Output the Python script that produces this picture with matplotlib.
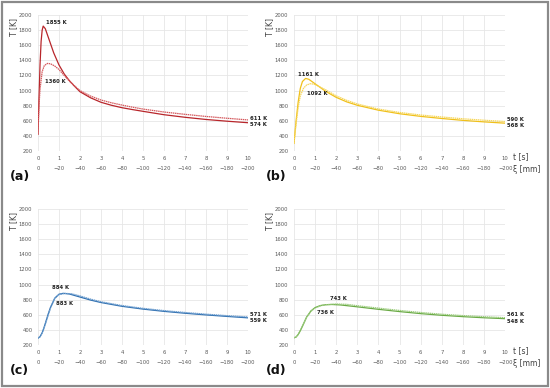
import matplotlib
matplotlib.use("Agg")
import matplotlib.pyplot as plt
import matplotlib.patches as pat

# time [s] and temperatures [K]
t_a = [0, 0.05, 0.1, 0.15, 0.2, 0.25, 0.35, 0.5, 0.75, 1, 1.25, 1.5, 1.75, 2, 2.5, 3, 3.5, 4, 4.5, 5, 6, 7, 8, 9, 10]
a_solid = [420, 900, 1350, 1650, 1800, 1855, 1820, 1700, 1500, 1340, 1220, 1130, 1055, 985, 905, 845, 805, 773, 748, 725, 680, 646, 617, 594, 574]
t_a2 = [0, 0.05, 0.1, 0.2, 0.3, 0.45, 0.6, 0.8, 1, 1.25, 1.5, 1.75, 2, 2.5, 3, 3.5, 4, 4.5, 5, 6, 7, 8, 9, 10]
a_dot = [420, 800, 1020, 1250, 1330, 1360, 1355, 1325, 1280, 1200, 1125, 1060, 1000, 928, 875, 838, 808, 780, 755, 716, 685, 657, 633, 611]

t_b = [0, 0.1, 0.2, 0.3, 0.4, 0.55, 0.7, 1, 1.5, 2, 2.5, 3, 4, 5, 6, 7, 8, 9, 10]
b_solid = [300, 600, 850, 1030, 1120, 1161, 1150, 1090, 990, 910, 850, 805, 740, 693, 658, 630, 605, 585, 568]
t_b2 = [0, 0.1, 0.2, 0.3, 0.45, 0.6, 0.8, 1, 1.5, 2, 2.5, 3, 4, 5, 6, 7, 8, 9, 10]
b_dot = [300, 560, 780, 930, 1030, 1075, 1092, 1080, 1010, 930, 870, 822, 755, 710, 676, 650, 626, 607, 590]

t_c = [0, 0.1, 0.2, 0.3, 0.4, 0.5, 0.6, 0.8, 1, 1.2, 1.5, 2, 2.5, 3, 4, 5, 6, 7, 8, 9, 10]
c_solid = [290, 310, 360, 440, 530, 620, 700, 820, 872, 884, 875, 835, 795, 762, 712, 675, 645, 620, 598, 578, 559]
t_c2 = [0, 0.1, 0.2, 0.3, 0.4, 0.5, 0.6, 0.8, 1, 1.3, 1.6, 2, 2.5, 3, 4, 5, 6, 7, 8, 9, 10]
c_dot = [290, 308, 355, 430, 515, 605, 690, 815, 868, 883, 878, 850, 808, 772, 722, 685, 655, 630, 608, 588, 571]

t_d = [0, 0.1, 0.2, 0.3, 0.4, 0.5, 0.6, 0.8, 1, 1.25, 1.5, 1.8, 2.2, 3, 4, 5, 6, 7, 8, 9, 10]
d_solid = [295, 305, 340, 390, 450, 510, 570, 650, 695, 722, 733, 736, 730, 705, 672, 642, 615, 593, 575, 560, 548]
t_d2 = [0, 0.1, 0.2, 0.3, 0.4, 0.5, 0.6, 0.8, 1, 1.25, 1.5, 2, 2.5, 3, 4, 5, 6, 7, 8, 9, 10]
d_dot = [295, 304, 338, 385, 445, 505, 565, 645, 690, 718, 733, 743, 738, 720, 688, 657, 630, 607, 589, 574, 561]

t_ticks = list(range(0, 11))
xi_ticks = [0, -20, -40, -60, -80, -100, -120, -140, -160, -180, -200]
y_ticks = list(range(200, 2001, 200))

panels = [
    # letter, rect, data, colours, peak labels, end labels, show units
    ("(a)", [0.069, 0.611, 0.382, 0.350], (t_a, a_solid, t_a2, a_dot), ("#b8262b", "#d4585c"),
     [("1855 K", 0.4, 1900), ("1360 K", 0.35, 1125)], ("611 K", "574 K"), False),
    ("(b)", [0.5345, 0.611, 0.384, 0.350], (t_b, b_solid, t_b2, b_dot), ("#f0c01a", "#f6d65a"),
     [("1161 K", 0.2, 1210), ("1092 K", 0.6, 965)], ("590 K", "568 K"), True),
    ("(c)", [0.069, 0.111, 0.382, 0.350], (t_c, c_solid, t_c2, c_dot), ("#2e6fb0", "#6f9fd0"),
     [("884 K", 0.65, 960), ("883 K", 0.85, 745)], ("571 K", "559 K"), False),
    ("(d)", [0.5345, 0.111, 0.384, 0.350], (t_d, d_solid, t_d2, d_dot), ("#6aaa45", "#9ccc7e"),
     [("743 K", 1.7, 815), ("736 K", 1.1, 625)], ("561 K", "548 K"), True),
]

fig = plt.figure(figsize=(5.5, 3.88), dpi=100)
fig.patches.append(pat.Rectangle((0.004, 0.005), 0.992, 0.99, transform=fig.transFigure,
                                 fill=False, ec="#8a8a8a", lw=1.6))

for letter, rect, (ts, ys, td, yd), (c1, c2), peaks, ends, units in panels:
    ax = fig.add_axes(rect)
    ax.plot(ts, ys, color=c1, lw=0.9)
    ax.plot(td, yd, color=c2, lw=0.9, ls=(0, (1.2, 0.5)))
    ax.set_xlim(0, 10)
    ax.set_ylim(200, 2000)
    ax.set_xticks(t_ticks)
    ax.set_yticks(y_ticks)
    ax.grid(True, color="#e6e6e6", lw=0.6)
    for s in ax.spines.values():
        s.set_visible(False)
    ax.tick_params(length=0, labelsize=3.8, labelcolor="#595959", pad=4)
    sec = ax.secondary_xaxis(-0.11, functions=(lambda x: -20 * x, lambda x: -x / 20))
    sec.set_xticks(xi_ticks)
    sec.spines["bottom"].set_visible(False)
    sec.tick_params(length=0, labelsize=3.8, labelcolor="#595959", pad=0)
    ax.text(-0.115, 0.91, "T [K]", transform=ax.transAxes, rotation=90, fontsize=5.5,
            color="#404040", ha="center", va="center")
    for txt, x, y in peaks:
        ax.text(x, y, txt, fontsize=3.8, fontweight="bold", color="#222222", va="center")
    mid = ((yd[-1] + ys[-1]) / 2 - 200) / 1800
    ax.text(1.01, mid + 0.024, ends[0], transform=ax.transAxes,
            fontsize=3.8, fontweight="bold", color="#222222", va="center")
    ax.text(1.01, mid - 0.026, ends[1], transform=ax.transAxes,
            fontsize=3.8, fontweight="bold", color="#222222", va="center")
    if units:
        ax.text(1.035, -0.045, "t [s]", transform=ax.transAxes, fontsize=5.5,
                color="#404040", va="center")
        ax.text(1.035, -0.14, "ξ [mm]", transform=ax.transAxes, fontsize=5.5,
                color="#404040", va="center")
    ax.text(-0.135, -0.185, letter, transform=ax.transAxes, fontsize=9,
            fontweight="bold", color="#111111", va="center", ha="left")

fig.savefig("out.png", dpi=100)
